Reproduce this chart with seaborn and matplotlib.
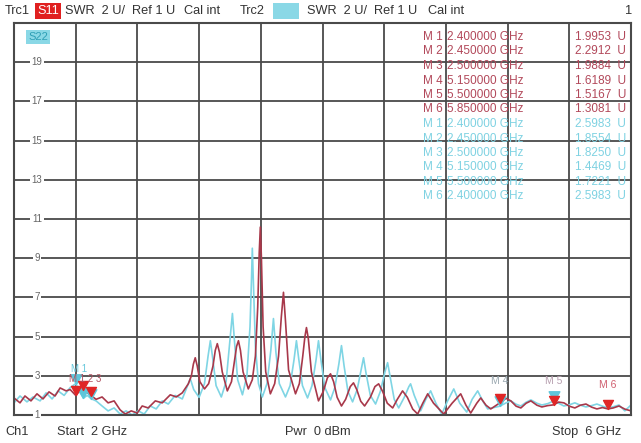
import numpy as np
import pandas as pd
import matplotlib
matplotlib.use("Agg")
import matplotlib.pyplot as plt
from matplotlib.path import Path
import seaborn as sns

# ---------------- data ----------------
red_freq = [2.000, 2.039, 2.071, 2.110, 2.149, 2.188, 2.227, 2.266, 2.299, 2.338, 2.364,
            2.400, 2.422, 2.450, 2.474, 2.500, 2.532, 2.571, 2.610, 2.649, 2.688, 2.721,
            2.760, 2.799, 2.831, 2.870, 2.916, 2.961, 3.013, 3.052, 3.091, 3.130,
            3.150, 3.163, 3.175, 3.188, 3.205, 3.235, 3.262, 3.290, 3.305, 3.318, 3.332,
            3.350, 3.383, 3.410, 3.430, 3.443, 3.455, 3.468, 3.485, 3.519, 3.545, 3.565,
            3.580, 3.590, 3.597, 3.604, 3.615, 3.632, 3.662, 3.690, 3.715, 3.733, 3.747,
            3.760, 3.780, 3.825, 3.850, 3.872, 3.886, 3.896, 3.908, 3.928, 3.974, 4.005,
            4.032, 4.052, 4.072, 4.095, 4.123, 4.150, 4.180, 4.201, 4.222, 4.248, 4.273,
            4.310, 4.340, 4.364, 4.390, 4.420, 4.455, 4.485, 4.519, 4.550, 4.585, 4.617,
            4.650, 4.682, 4.720, 4.786, 4.840, 4.896, 4.930, 4.961, 5.000, 5.026, 5.060,
            5.091, 5.150, 5.190, 5.221, 5.255, 5.286, 5.320, 5.351, 5.390, 5.422, 5.460,
            5.500, 5.530, 5.565, 5.600, 5.636, 5.672, 5.708, 5.745, 5.779, 5.815, 5.850,
            5.885, 5.922, 5.960, 6.000]
red_swr = [1.87, 1.62, 1.97, 1.72, 2.08, 1.82, 2.18, 1.97, 2.38, 2.23, 2.30,
           2.00, 2.20, 2.29, 2.15, 1.99, 1.80, 1.92, 1.62, 1.72, 1.26, 1.05,
           1.21, 1.10, 1.46, 1.36, 1.72, 1.62, 2.03, 1.92, 2.13, 2.59,
           3.00, 3.60, 3.92, 3.50, 2.70, 2.33, 2.60, 3.50, 4.30, 4.64, 4.20,
           3.20, 2.23, 2.70, 3.80, 4.50, 4.79, 4.30, 3.20, 2.33, 2.80, 4.00,
           6.50, 9.30, 10.59, 9.00, 5.50, 3.20, 2.08, 2.60, 4.00, 6.00, 7.26,
           5.80, 3.30, 2.08, 2.60, 4.00, 5.00, 5.46, 4.90, 3.20, 1.72, 2.20,
           2.90, 3.10, 2.70, 1.90, 1.46, 1.80, 2.45, 2.64, 2.30, 1.70, 1.46,
           1.90, 2.45, 2.59, 2.20, 1.60, 1.36, 1.80, 2.23, 1.90, 1.30, 1.05,
           1.60, 2.08, 1.60, 1.05, 1.60, 2.08, 1.50, 1.10, 1.60, 1.87, 1.50,
           1.31, 1.62, 1.85, 1.72, 1.45, 1.36, 1.60, 1.72, 1.50, 1.41, 1.48,
           1.52, 1.66, 1.62, 1.45, 1.36, 1.50, 1.56, 1.40, 1.31, 1.38, 1.31,
           1.36, 1.46, 1.30, 1.21]

cyan_freq = [2.000, 2.039, 2.084, 2.123, 2.169, 2.208, 2.247, 2.286, 2.325, 2.364,
             2.400, 2.425, 2.450, 2.475, 2.500, 2.532, 2.571, 2.610, 2.649, 2.688,
             2.727, 2.766, 2.805, 2.844, 2.883, 2.922, 2.961, 3.000, 3.045, 3.091,
             3.120, 3.143, 3.165, 3.200, 3.235, 3.258, 3.273, 3.288, 3.310, 3.344,
             3.375, 3.400, 3.416, 3.430, 3.450, 3.481, 3.510, 3.530, 3.540, 3.545,
             3.552, 3.565, 3.585, 3.610, 3.640, 3.665, 3.682, 3.698, 3.720, 3.760,
             3.790, 3.815, 3.831, 3.847, 3.870, 3.903, 3.932, 3.958, 3.974, 3.990,
             4.015, 4.052, 4.080, 4.106, 4.123, 4.140, 4.165, 4.195, 4.225, 4.250,
             4.266, 4.283, 4.310, 4.344, 4.375, 4.405, 4.422, 4.440, 4.465, 4.494,
             4.530, 4.560, 4.571, 4.595, 4.636, 4.670, 4.701, 4.735, 4.773, 4.810,
             4.851, 4.890, 4.935, 4.970, 5.006, 5.040, 5.071, 5.150, 5.190, 5.221,
             5.255, 5.286, 5.320, 5.351, 5.390, 5.422, 5.460, 5.500, 5.530, 5.565,
             5.600, 5.636, 5.672, 5.708, 5.745, 5.779, 5.815, 5.851, 5.885, 5.922,
             5.960, 6.000]
cyan_swr = [1.62, 1.97, 1.67, 1.92, 1.72, 2.13, 1.82, 2.23, 2.00, 2.40,
            2.60, 2.20, 1.86, 2.00, 1.83, 1.72, 1.46, 1.21, 1.36, 1.05,
            1.21, 1.00, 1.21, 1.05, 1.46, 1.31, 1.72, 1.56, 2.00, 1.82,
            2.40, 2.85, 2.30, 1.90, 2.60, 4.00, 4.79, 3.90, 2.50, 1.92,
            2.70, 4.80, 6.18, 4.70, 2.80, 2.03, 3.00, 5.50, 8.00, 9.51,
            7.80, 4.50, 2.60, 1.92, 2.60, 4.30, 5.92, 4.20, 2.60, 1.92,
            2.50, 3.80, 4.79, 3.80, 2.50, 1.87, 2.50, 3.80, 4.79, 3.80,
            2.40, 1.77, 2.40, 3.60, 4.54, 3.50, 2.20, 1.67, 2.30, 3.30,
            3.92, 3.10, 2.00, 1.56, 2.20, 3.20, 3.67, 2.90, 1.80, 1.36,
            1.90, 2.45, 2.59, 2.00, 1.21, 1.80, 2.23, 1.60, 1.05, 1.70,
            2.33, 1.60, 1.15, 1.80, 2.23, 1.70, 1.31, 1.45, 1.62, 1.72,
            1.55, 1.46, 1.65, 1.77, 1.60, 1.51, 1.58, 1.72, 1.60, 1.46,
            1.52, 1.62, 1.50, 1.41, 1.48, 1.56, 1.45, 1.36, 1.42, 1.51,
            1.21, 1.51]

red_marker_labels = ["M 1", "M 2", "M 3", "M 4", "M 5", "M 6"]
red_marker_freq = ["2.400000 GHz", "2.450000 GHz", "2.500000 GHz",
                   "5.150000 GHz", "5.500000 GHz", "5.850000 GHz"]
red_marker_val = ["1.9953  U", "2.2912  U", "1.9884  U", "1.6189  U", "1.5167  U", "1.3081  U"]
cyan_marker_labels = ["M 1", "M 2", "M 3", "M 4", "M 5", "M 6"]
cyan_marker_freq = ["2.400000 GHz", "2.450000 GHz", "2.500000 GHz",
                    "5.150000 GHz", "5.500000 GHz", "2.400000 GHz"]
cyan_marker_val = ["2.5983  U", "1.8554  U", "1.8250  U", "1.4469  U", "1.7221  U", "2.5983  U"]

red_mk_x = [2.40, 2.45, 2.50, 5.15, 5.50, 5.85]
red_mk_y = [1.9953, 2.2912, 1.9884, 1.6189, 1.5167, 1.3081]
cyan_mk_x = [2.40, 2.45, 2.50, 5.15, 5.50]
cyan_mk_y = [2.5983, 1.8554, 1.8250, 1.4469, 1.7221]

y_ticks = [1, 3, 5, 7, 9, 11, 13, 15, 17, 19, 21]
y_tick_labels = ["1", "3", "5", "7", "9", "11", "13", "15", "17", "19", ""]
x_ticks = [2.0, 2.4, 2.8, 3.2, 3.6, 4.0, 4.4, 4.8, 5.2, 5.6, 6.0]

RED = "#a8384a"
CYAN = "#7fd5e4"
GRID = "#4a4a4a"

# ---------------- figure ----------------
sns.set_theme(style="white")
plt.rcParams["font.family"] = ["Liberation Sans", "DejaVu Sans"]

W, H = 641, 443
fig = plt.figure(figsize=(W / 100, H / 100), dpi=100)
fig.patch.set_facecolor("white")
ax = fig.add_axes([14 / W, 28 / H, 617 / W, 392 / H])

df = pd.concat([
    pd.DataFrame({"freq": cyan_freq, "swr": cyan_swr, "trace": "S22"}),
    pd.DataFrame({"freq": red_freq, "swr": red_swr, "trace": "S11"}),
])
sns.lineplot(data=df, x="freq", y="swr", hue="trace", palette={"S11": RED, "S22": CYAN},
             hue_order=["S22", "S11"], estimator=None, sort=False, linewidth=1.2,
             legend=False, ax=ax)

ax.set_xlim(2, 6)
ax.set_ylim(1, 21)
ax.set_xticks(x_ticks)
ax.set_yticks(y_ticks)
ax.set_xticklabels([])
ax.set_yticklabels([])
ax.tick_params(length=0)
ax.grid(True, color=GRID, linewidth=1.3)
ax.set_axisbelow(True)
for s in ax.spines.values():
    s.set_color(GRID)
    s.set_linewidth(1.5)
ax.set_xlabel("")
ax.set_ylabel("")

# y tick labels inside the grid
xl = 2.0 + (37 - 14) / 154
for yt, lab in zip(y_ticks, y_tick_labels):
    if lab:
        ax.text(xl, yt, lab, ha="center", va="center", fontsize=7, color="#666666",
                bbox=dict(fc="white", ec="none", pad=1.2), zorder=3)

# S22 tag
ax.text(2.0 + (38 - 14) / 154, 1 + (414 - 38) / 19.5, "S22", ha="center", va="center",
        fontsize=8, color="#2f9fb5",
        bbox=dict(fc="#8ad8e6", ec="none", pad=1.5), zorder=4)

# marker triangles (tip at trace value)
tri = Path([(-0.55, 1.0), (0.55, 1.0), (0.0, 0.0), (-0.55, 1.0)],
           [Path.MOVETO, Path.LINETO, Path.LINETO, Path.CLOSEPOLY])
ax.plot(cyan_mk_x, cyan_mk_y, linestyle="none", marker=tri, markersize=14,
        color="#5ec6da", zorder=5)
ax.plot(red_mk_x, red_mk_y, linestyle="none", marker=tri, markersize=13,
        color="#e02626", zorder=6)

# marker labels on the traces
ax.text(2.42, 3.35, "M 1", fontsize=7, color="#68c8dc", ha="center", va="center", zorder=7)
ax.text(2.46, 2.85, "M 1 2 3", fontsize=7, color="#b05060", ha="center", va="center", zorder=7)
ax.text(5.15, 2.75, "M 4", fontsize=7.5, color="#9aa8b0", ha="center", va="center", zorder=7)
ax.text(5.50, 2.75, "M 5", fontsize=7.5, color="#b8a0b0", ha="center", va="center", zorder=7)
ax.text(5.85, 2.55, "M 6", fontsize=7.5, color="#d06070", ha="center", va="center", zorder=7)

# marker table
rows_y = [37, 51.5, 66, 80.5, 95, 109.5, 124, 138.5, 153, 167.5, 182, 196.5]
labels = red_marker_labels + cyan_marker_labels
freqs = red_marker_freq + cyan_marker_freq
vals = red_marker_val + cyan_marker_val
cols = ["#b2485a"] * 6 + ["#7fd2e2"] * 6
for py, lab, fq, vv, c in zip(rows_y, labels, freqs, vals, cols):
    fig.text(443 / W, 1 - py / H, lab, ha="right", va="center", fontsize=8.5, color=c)
    fig.text(447 / W, 1 - py / H, fq, ha="left", va="center", fontsize=8.5, color=c)
    fig.text(626 / W, 1 - py / H, vv, ha="right", va="center", fontsize=8.5, color=c)

# header
hy = 1 - 11 / H
HC = "#333333"
FS = 9.2
fig.text(5 / W, hy, "Trc1", ha="left", va="center", fontsize=FS, color=HC)
fig.text(48 / W, hy, "S11", ha="center", va="center", fontsize=FS, color="white",
         bbox=dict(fc="#e02020", ec="none", pad=1.5))
fig.text(65 / W, hy, "SWR  2 U/  Ref 1 U", ha="left", va="center", fontsize=FS, color=HC)
fig.text(184 / W, hy, "Cal int", ha="left", va="center", fontsize=FS, color=HC)
fig.text(240 / W, hy, "Trc2", ha="left", va="center", fontsize=FS, color=HC)
fig.text(286 / W, hy, "S22", ha="center", va="center", fontsize=FS, color="#8ad8e6",
         bbox=dict(fc="#8ad8e6", ec="none", pad=1.5))
fig.text(307 / W, hy, "SWR  2 U/  Ref 1 U", ha="left", va="center", fontsize=FS, color=HC)
fig.text(428 / W, hy, "Cal int", ha="left", va="center", fontsize=FS, color=HC)
fig.text(632 / W, hy, "1", ha="right", va="center", fontsize=FS, color=HC)

# footer
fy = 1 - 432 / H
fig.text(5 / W, fy, "Ch1", ha="left", va="center", fontsize=FS, color=HC)
fig.text(57 / W, fy, "Start  2 GHz", ha="left", va="center", fontsize=FS, color=HC)
fig.text(285 / W, fy, "Pwr  0 dBm", ha="left", va="center", fontsize=FS, color=HC)
fig.text(621 / W, fy, "Stop  6 GHz", ha="right", va="center", fontsize=FS, color=HC)

fig.savefig("out.png", dpi=100, facecolor="white")
